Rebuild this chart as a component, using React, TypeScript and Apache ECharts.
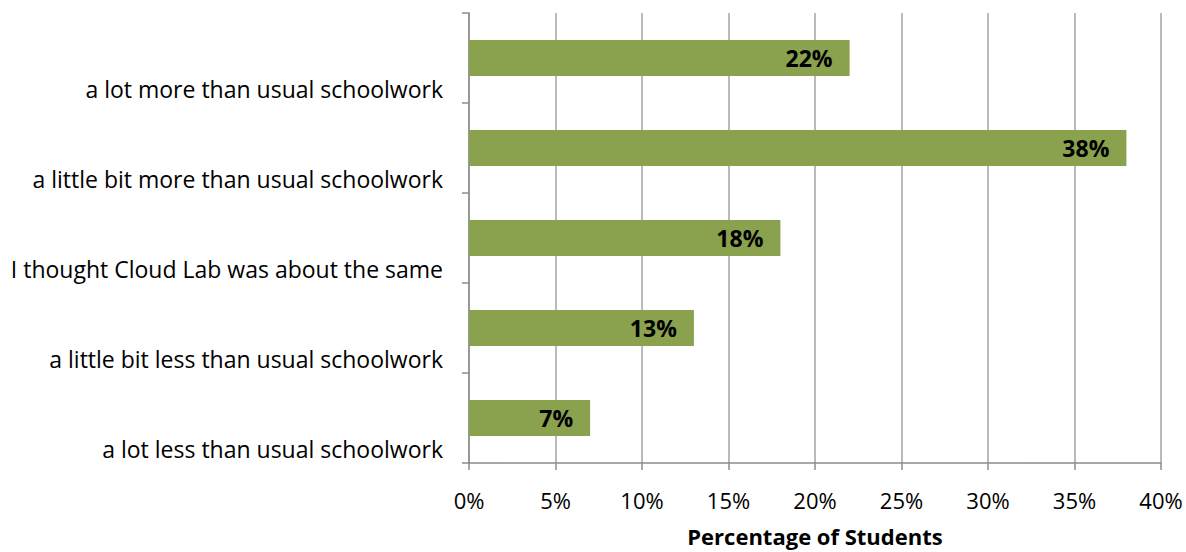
import React, { useEffect, useRef } from "react";
import * as echarts from "echarts";

const categories = [
  "a lot less than usual schoolwork",
  "a little bit less than usual schoolwork",
  "I thought Cloud Lab was about the same",
  "a little bit more than usual schoolwork",
  "a lot more than usual schoolwork",
];
const values = [7, 13, 18, 38, 22];
const xTicks = [0, 5, 10, 15, 20, 25, 30, 35, 40];

const FONT = "'Open Sans', sans-serif";

export default function App() {
  const ref = useRef<HTMLDivElement>(null);
  useEffect(() => {
    if (!ref.current) return;
    const chart = echarts.init(ref.current, undefined, { renderer: "svg" });
    chart.setOption({
      animation: false,
      textStyle: { fontFamily: FONT },
      grid: { left: 469, right: 25, top: 13, bottom: 89, containLabel: false, outerBoundsMode: "none" },
      xAxis: {
        type: "value",
        min: xTicks[0],
        max: xTicks[xTicks.length - 1],
        interval: 5,
        name: "Percentage of Students",
        nameLocation: "middle",
        nameGap: 62,
        nameTextStyle: { fontFamily: FONT, fontSize: 22, fontWeight: "bold", color: "#000" },
        axisLine: { show: true, lineStyle: { color: "#8c8c8c", width: 1.5 } },
        axisTick: { show: true, length: 7, lineStyle: { color: "#8c8c8c", width: 1.5 } },
        axisLabel: {
          formatter: (v: number) => v + "%",
          fontFamily: FONT,
          fontSize: 22,
          color: "#000",
          margin: 26,
        },
        splitLine: { show: true, lineStyle: { color: "#a3a3a3", width: 1.5 } },
      },
      yAxis: {
        type: "category",
        data: categories,
        axisLine: { show: true, lineStyle: { color: "#8c8c8c", width: 1.5 } },
        axisTick: { show: true, length: 7, lineStyle: { color: "#8c8c8c", width: 1.5 } },
        axisLabel: {
          interval: 0,
          hideOverlap: false,
          fontFamily: FONT,
          fontSize: 23,
          color: "#000",
          margin: 26,
          lineHeight: 62,
          formatter: (v: string) => "\n" + v,
        },
      },
      series: [
        {
          type: "bar",
          data: values,
          barWidth: "40%",
          itemStyle: { color: "#8aa14e" },
          label: {
            show: true,
            position: "insideRight",
            distance: 17,
            formatter: (p: any) => p.value + "%",
            fontFamily: FONT,
            fontSize: 23,
            fontWeight: "bold",
            color: "#000",
          },
        },
      ],
    });
    return () => chart.dispose();
  }, []);
  return <div ref={ref} style={{ width: 1186, height: 552, position: "absolute", left: 0, top: 0, background: "#fff" }} />;
}
